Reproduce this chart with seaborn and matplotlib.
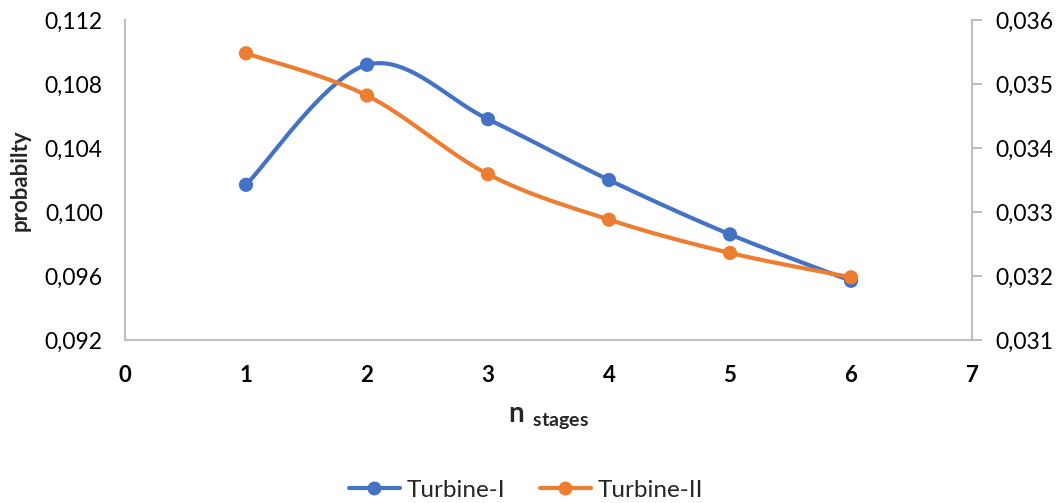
import numpy as np
import pandas as pd
import matplotlib
matplotlib.use("Agg")
import matplotlib.pyplot as plt
import seaborn as sns

# number of stages
stages = [1, 2, 3, 4, 5, 6]
# Turbine-I plotted on the left axis, Turbine-II on the right axis
turbine_1 = [0.1017, 0.1092, 0.1058, 0.1020, 0.0986, 0.0957]
turbine_2 = [0.03548, 0.03482, 0.03359, 0.03288, 0.03236, 0.03198]

left_ticks = [0.092, 0.096, 0.100, 0.104, 0.108, 0.112]
right_ticks = [0.031, 0.032, 0.033, 0.034, 0.035, 0.036]
x_ticks = [0, 1, 2, 3, 4, 5, 6, 7]

BLUE = "#4472C4"
ORANGE = "#ED7D31"
GRAY = "#BFBFBF"

sns.set_theme(style="white")
plt.rcParams["font.family"] = ["Lato", "DejaVu Sans"]
plt.rcParams["mathtext.fontset"] = "custom"
plt.rcParams["mathtext.rm"] = "Lato"
plt.rcParams["mathtext.bf"] = "Lato:bold"


def smooth(xs, ys, n=40):
    """Bezier smoothing through every point (Catmull-Rom style)."""
    x = np.asarray(xs, float)
    y = np.asarray(ys, float)
    px = np.concatenate([[x[0]], x, [x[-1]]])
    py = np.concatenate([[y[0]], y, [y[-1]]])
    out_x, out_y = [], []
    t = np.linspace(0, 1, n)
    for i in range(1, len(x)):
        p0 = np.array([px[i], py[i]])
        p3 = np.array([px[i + 1], py[i + 1]])
        c1 = p0 + (p3 - np.array([px[i - 1], py[i - 1]])) / 6
        c2 = p3 - (np.array([px[i + 2], py[i + 2]]) - p0) / 6
        seg = ((1 - t) ** 3)[:, None] * p0 + (3 * (1 - t) ** 2 * t)[:, None] * c1 \
            + (3 * (1 - t) * t ** 2)[:, None] * c2 + (t ** 3)[:, None] * p3
        out_x.extend(seg[:, 0])
        out_y.extend(seg[:, 1])
    return pd.DataFrame({"x": out_x, "y": out_y})


fig = plt.figure(figsize=(10.62, 5.03), dpi=100)
ax = fig.add_axes([125 / 1062, 1 - 340 / 503, (972 - 125) / 1062, 320 / 503])
ax2 = ax.twinx()

pts1 = pd.DataFrame({"x": stages, "y": turbine_1})
pts2 = pd.DataFrame({"x": stages, "y": turbine_2})

sns.lineplot(data=smooth(stages, turbine_1), x="x", y="y", ax=ax, color=BLUE,
             lw=3, sort=False, estimator=None)
sns.lineplot(data=smooth(stages, turbine_2), x="x", y="y", ax=ax2, color=ORANGE,
             lw=3, sort=False, estimator=None)
sns.scatterplot(data=pts1, x="x", y="y", ax=ax, color=BLUE, s=105,
                edgecolor="none", zorder=3)
sns.scatterplot(data=pts2, x="x", y="y", ax=ax2, color=ORANGE, s=105,
                edgecolor="none", zorder=3)

ax.set_xlim(0, 7)
ax.set_ylim(0.092, 0.112)
ax2.set_ylim(0.031, 0.036)
ax.set_xticks(x_ticks)
ax.set_xticklabels([str(v) for v in x_ticks], fontweight="bold", fontsize=16)
ax.set_yticks(left_ticks)
ax.set_yticklabels([f"{v:.3f}".replace(".", ",") for v in left_ticks], fontsize=16.5)
ax2.set_yticks(right_ticks)
ax2.set_yticklabels([f"{v:.3f}".replace(".", ",") for v in right_ticks], fontsize=16.5)

ax.tick_params(axis="x", length=0, pad=18, colors="black")
ax.tick_params(axis="y", length=0, pad=16, colors="black")
ax2.tick_params(axis="y", length=7, width=1.5, color=GRAY, pad=10, labelcolor="black")

for a in (ax, ax2):
    a.spines["top"].set_visible(False)
    for side in ("left", "right", "bottom"):
        a.spines[side].set_color(GRAY)
        a.spines[side].set_linewidth(1.5)
    a.grid(False)

ax.set_ylabel("probabilty", fontweight="bold", fontsize=16, labelpad=10)
ax2.set_ylabel("")
ax.set_xlabel(r"$\mathbf{n}\ _{\mathbf{stages}}$", fontsize=20, labelpad=14)

handles = [
    plt.Line2D([], [], color=BLUE, lw=3, marker="o", markersize=9),
    plt.Line2D([], [], color=ORANGE, lw=3, marker="o", markersize=9),
]
fig.legend(handles, ["Turbine-I", "Turbine-II"], loc="center",
           bbox_to_anchor=(526 / 1062, 1 - 490 / 503), ncol=2, frameon=False,
           fontsize=17.5, handlelength=2.1, columnspacing=1.4, handletextpad=0.3)

fig.savefig("out.png", dpi=100)
